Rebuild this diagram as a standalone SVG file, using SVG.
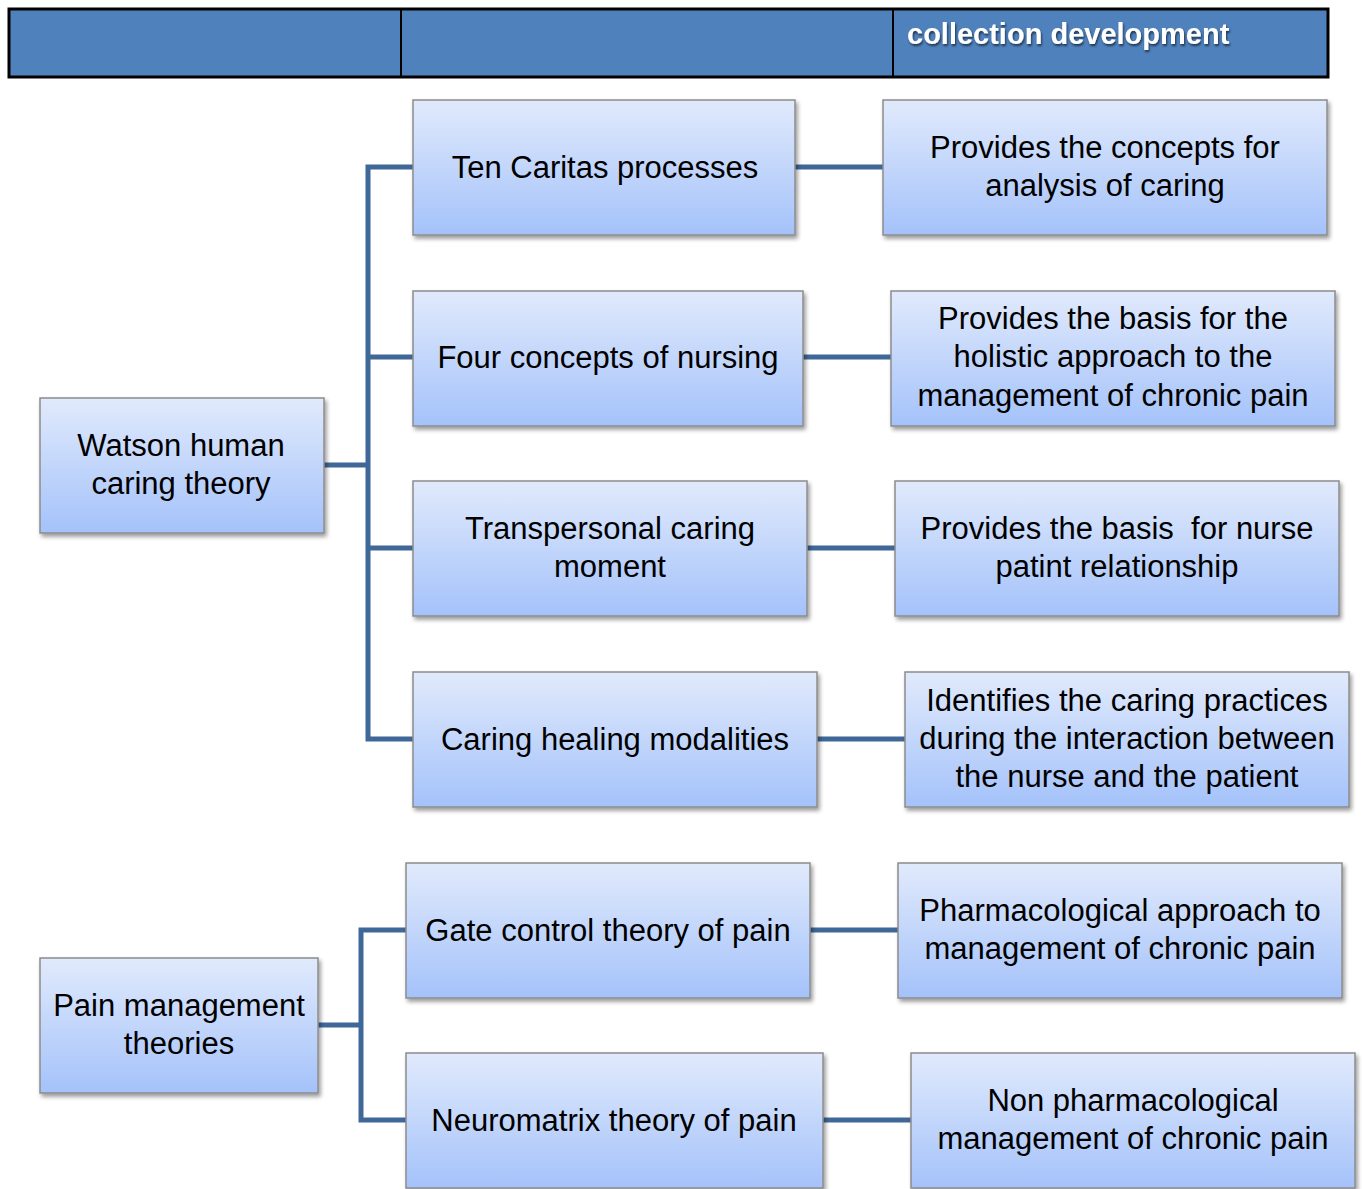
<svg xmlns="http://www.w3.org/2000/svg" width="1362" height="1189" viewBox="0 0 1362 1189">
<defs>
<linearGradient id="g" x1="0" y1="0" x2="0" y2="1">
<stop offset="0" stop-color="#e1eafc"/>
<stop offset="1" stop-color="#a4c2fa"/>
</linearGradient>
<filter id="sh" x="-5%" y="-5%" width="115%" height="120%">
<feGaussianBlur in="SourceAlpha" stdDeviation="2"/>
<feOffset dx="2" dy="3"/>
<feComponentTransfer><feFuncA type="linear" slope="0.4"/></feComponentTransfer>
<feMerge><feMergeNode/><feMergeNode in="SourceGraphic"/></feMerge>
</filter>
<filter id="ts" x="-5%" y="-20%" width="110%" height="150%">
<feGaussianBlur in="SourceAlpha" stdDeviation="1"/>
<feOffset dx="1" dy="2"/>
<feComponentTransfer><feFuncA type="linear" slope="0.6"/></feComponentTransfer>
<feMerge><feMergeNode/><feMergeNode in="SourceGraphic"/></feMerge>
</filter>
</defs>
<style>
.box{fill:url(#g);stroke:#8c8c8c;stroke-width:1.5;filter:url(#sh)}
.t{font-family:"Liberation Sans",Arial,sans-serif;font-size:31px;fill:#000;text-anchor:middle}
.c{fill:none;stroke:#3f6898;stroke-width:5}
.hd{font-family:"Liberation Sans",Arial,sans-serif;font-weight:bold;font-size:29px;fill:#fff;filter:url(#ts)}
</style>
<rect width="1362" height="1189" fill="#fff"/>
<g id="header">
<rect x="9" y="9" width="1319" height="68" fill="#4f81bd" stroke="#000" stroke-width="3"/>
<line x1="401" y1="9" x2="401" y2="77" stroke="#000" stroke-width="2"/>
<line x1="893" y1="9" x2="893" y2="77" stroke="#000" stroke-width="2"/>
<text class="hd" x="907" y="44">collection development</text>
</g>
<g id="connectors">
<path class="c" d="M413 167 H368 V739 H413"/>
<path class="c" d="M368 357 H413 M368 548 H413 M324 465 H368"/>
<path class="c" d="M795 167 H883 M803 357 H891 M807 548 H895 M817 739 H905"/>
<path class="c" d="M406 930 H361 V1120 H406 M318 1025 H361"/>
<path class="c" d="M810 930 H898 M823 1120 H911"/>
</g>
<g id="watson"><rect class="box" x="40" y="398" width="284" height="135"/><text class="t" x="181" y="456">Watson human</text><text class="t" x="181" y="494">caring theory</text></g>
<g id="ten-caritas"><rect class="box" x="413" y="100" width="382" height="135"/><text class="t" x="605" y="178">Ten Caritas processes</text></g>
<g id="concepts-analysis"><rect class="box" x="883" y="100" width="444" height="135"/><text class="t" x="1105" y="158">Provides the concepts for</text><text class="t" x="1105" y="196">analysis of caring</text></g>
<g id="four-concepts"><rect class="box" x="413" y="291" width="390" height="135"/><text class="t" x="608" y="368">Four concepts of nursing</text></g>
<g id="holistic"><rect class="box" x="891" y="291" width="444" height="135"/><text class="t" x="1113" y="329">Provides the basis for the</text><text class="t" x="1113" y="367">holistic approach to the</text><text class="t" x="1113" y="406">management of chronic pain</text></g>
<g id="transpersonal"><rect class="box" x="413" y="481" width="394" height="135"/><text class="t" x="610" y="539">Transpersonal caring</text><text class="t" x="610" y="577">moment</text></g>
<g id="nurse-patient"><rect class="box" x="895" y="481" width="444" height="135"/><text class="t" x="1117" y="539" xml:space="preserve">Provides the basis  for nurse</text><text class="t" x="1117" y="577">patint relationship</text></g>
<g id="caring-healing"><rect class="box" x="413" y="672" width="404" height="135"/><text class="t" x="615" y="750">Caring healing modalities</text></g>
<g id="identifies"><rect class="box" x="905" y="672" width="444" height="135"/><text class="t" x="1127" y="711">Identifies the caring practices</text><text class="t" x="1127" y="749">during the interaction between</text><text class="t" x="1127" y="787">the nurse and the patient</text></g>
<g id="pain-management"><rect class="box" x="40" y="958" width="278" height="135"/><text class="t" x="179" y="1016">Pain management</text><text class="t" x="179" y="1054">theories</text></g>
<g id="gate-control"><rect class="box" x="406" y="863" width="404" height="135"/><text class="t" x="608" y="941">Gate control theory of pain</text></g>
<g id="pharmacological"><rect class="box" x="898" y="863" width="444" height="135"/><text class="t" x="1120" y="921">Pharmacological approach to</text><text class="t" x="1120" y="959">management of chronic pain</text></g>
<g id="neuromatrix"><rect class="box" x="406" y="1053" width="417" height="135"/><text class="t" x="614" y="1131">Neuromatrix theory of pain</text></g>
<g id="non-pharmacological"><rect class="box" x="911" y="1053" width="444" height="135"/><text class="t" x="1133" y="1111">Non pharmacological</text><text class="t" x="1133" y="1149">management of chronic pain</text></g>
</svg>
